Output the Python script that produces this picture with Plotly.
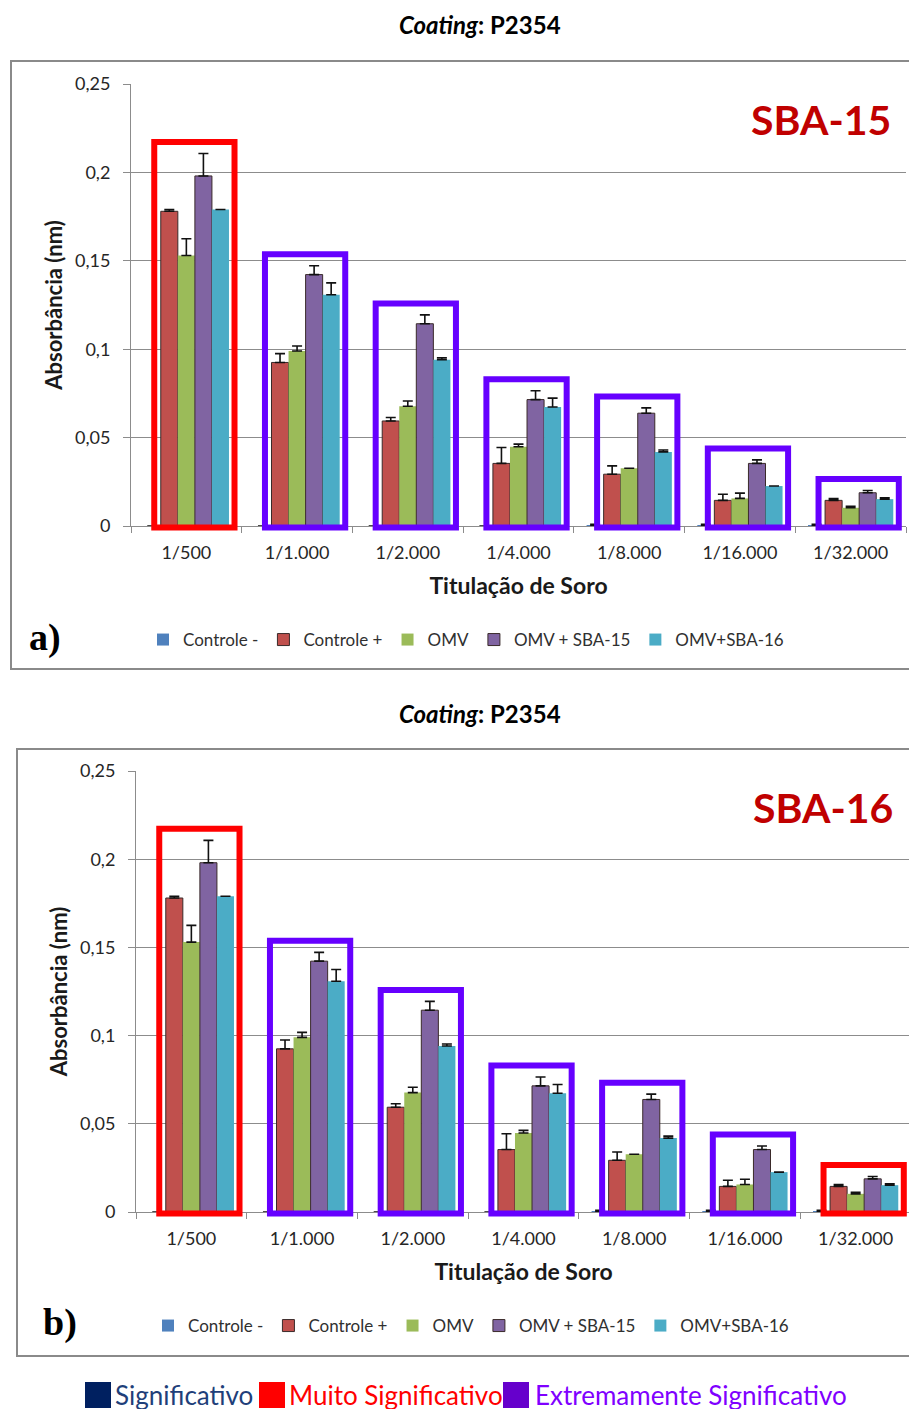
import plotly.graph_objects as go

# ---------------- data ----------------
categories = ["1/500", "1/1.000", "1/2.000", "1/4.000", "1/8.000", "1/16.000", "1/32.000"]
series_names = ["Controle -", "Controle +", "OMV", "OMV + SBA-15", "OMV+SBA-16"]

controle_neg = [0.0, 0.0, 0.0, 0.0, 0.0003, 0.0003, 0.0003]
controle_neg_err = [0.0, 0.0, 0.0, 0.0, 0.0006, 0.0006, 0.0006]
controle_pos = [0.178, 0.0925, 0.0594, 0.0354, 0.0293, 0.0145, 0.0145]
controle_pos_err = [0.001, 0.005, 0.002, 0.009, 0.0047, 0.0035, 0.001]
omv = [0.153, 0.099, 0.0677, 0.0448, 0.0327, 0.0156, 0.0103]
omv_err = [0.0095, 0.0028, 0.003, 0.0015, 0.0, 0.003, 0.0008]
omv_sba15 = [0.198, 0.1422, 0.1144, 0.0715, 0.0638, 0.0354, 0.0188]
omv_sba15_err = [0.0127, 0.005, 0.005, 0.005, 0.003, 0.002, 0.0013]
omv_sba16 = [0.179, 0.1308, 0.0941, 0.0673, 0.0419, 0.0226, 0.0152]
omv_sba16_err = [0.0, 0.0067, 0.0011, 0.005, 0.0011, 0.0, 0.0008]

# significance level of each dilution group (panel a: SBA-15, panel b: SBA-16)
significance_a = ["Muito", "Extremamente", "Extremamente", "Extremamente",
                  "Extremamente", "Extremamente", "Extremamente"]
significance_b = ["Muito", "Extremamente", "Extremamente", "Extremamente",
                  "Extremamente", "Extremamente", "Muito"]

significance_labels = ["Significativo", "Muito Significativo", "Extremamente Significativo"]

panel_titles = ["SBA-15", "SBA-16"]
panel_letters = ["a)", "b)"]

# ---------------- styles ----------------
W, H = 917, 1409
OFF = 8  # page body margin compensation
FONT = "Lato"
series_colors = ["#4F81BD", "#C0504D", "#9BBB59", "#8064A2", "#4BACC6"]
series_outline = [0, 1, 0, 1, 0]
box_colors = {"Significativo": "#002060", "Muito": "#FF0000", "Extremamente": "#6600FF"}
sig_square_colors = ["#002060", "#FF0000", "#6600CC"]
sig_text_colors = ["#1F3F7A", "#FF0000", "#7F00FF"]
GRID = "#8C8C8C"
YMAX = 0.25

values = [controle_neg, controle_pos, omv, omv_sba15, omv_sba16]
errors = [controle_neg_err, controle_pos_err, omv_err, omv_sba15_err, omv_sba16_err]


def py(px):
    return 1 - (px - OFF) / H


def pxx(px):
    return (px - OFF) / W


# panel geometry (pixels)
panels = [
    dict(xa="x", ya="y", x0=131, x1=906, ytop=84, ybot=526, frame=(11, 61, 669),
         title_y=25, tag_xy=(821, 119), letter_xy=(45, 637), legend_y=640,
         legend_x=143, sig=significance_a, legend="legend"),
    dict(xa="x2", ya="y2", x0=136, x1=911, ytop=771, ybot=1212, frame=(17, 749, 1356),
         title_y=713, tag_xy=(823, 807), letter_xy=(60, 1322), legend_y=1326,
         legend_x=148, sig=significance_b, legend="legend2"),
]

fig = go.Figure()

shapes = []
annotations = []

for p_i, p in enumerate(panels):
    for s_i, name in enumerate(series_names):
        fig.add_trace(go.Bar(
            x=categories, y=values[s_i], name=name,
            xaxis=p["xa"], yaxis=p["ya"], legend=p["legend"],
            marker=dict(color=series_colors[s_i],
                        line=dict(color="#3A2A2A", width=series_outline[s_i])),
            error_y=dict(type="data", symmetric=False, array=errors[s_i],
                         arrayminus=[0] * len(categories),
                         color="#111111", thickness=1.6, width=5),
            hoverinfo="x+y+name",
        ))

    # outer frame
    fx0, fy0, fy1 = p["frame"]
    shapes.append(dict(type="rect", xref="paper", yref="paper",
                       x0=pxx(fx0), x1=1.03, y0=py(fy1), y1=py(fy0),
                       line=dict(color="#8A8A8A", width=2), layer="below"))

    # significance boxes around each dilution group
    n = len(categories)
    xd = "x domain" if p["xa"] == "x" else "x2 domain"
    yd = "y domain" if p["ya"] == "y" else "y2 domain"
    for c_i in range(n):
        top = max(values[s][c_i] + errors[s][c_i] for s in range(len(values))) + 0.0065
        shapes.append(dict(type="rect", xref=xd, yref=yd,
                           x0=(c_i + 0.5 - 0.29) / n, x1=(c_i + 0.5 + 0.435) / n,
                           y0=-0.0008 / YMAX, y1=top / YMAX,
                           line=dict(color=box_colors[p["sig"][c_i]], width=6),
                           layer="above"))

    # titles / tags
    annotations.append(dict(xref="paper", yref="paper", x=pxx(480), y=py(p["title_y"]),
                            text="<b><i>Coating</i>: P2354</b>", showarrow=False,
                            xanchor="center", yanchor="middle",
                            font=dict(family=FONT, size=24, color="#000000")))
    annotations.append(dict(xref="paper", yref="paper", x=pxx(p["tag_xy"][0]), y=py(p["tag_xy"][1]),
                            text="<b>" + panel_titles[p_i] + "</b>", showarrow=False,
                            xanchor="center", yanchor="middle",
                            font=dict(family=FONT, size=41, color="#C00000")))
    annotations.append(dict(xref="paper", yref="paper", x=pxx(p["letter_xy"][0]), y=py(p["letter_xy"][1]),
                            text="<b>" + panel_letters[p_i] + "</b>", showarrow=False,
                            xanchor="center", yanchor="middle",
                            font=dict(family="Liberation Serif", size=38, color="#000000")))

# bottom significance key
sig_square_x = [85, 259, 503]
sig_text_x = [113, 287, 533]
for k, lab in enumerate(significance_labels):
    shapes.append(dict(type="rect", xref="paper", yref="paper",
                       x0=pxx(sig_square_x[k]), x1=pxx(sig_square_x[k] + 26),
                       y0=py(1408), y1=py(1382),
                       fillcolor=sig_square_colors[k], line=dict(width=0)))
    annotations.append(dict(xref="paper", yref="paper", x=pxx(sig_text_x[k]), y=py(1395),
                            text=lab, showarrow=False, xanchor="left", yanchor="middle",
                            font=dict(family=FONT, size=26, color=sig_text_colors[k])))

axis_common_x = dict(type="category", showline=True, linecolor=GRID, linewidth=1,
                     ticks="outside", tickson="boundaries", ticklen=6, tickcolor=GRID,
                     showgrid=False, tickfont=dict(family=FONT, size=18, color="#262626"),
                     ticklabelstandoff=10, automargin=False)
axis_common_y = dict(range=[0, YMAX], dtick=0.05, showline=True, linecolor=GRID, linewidth=1,
                     ticks="outside", ticklen=7, tickcolor=GRID, showgrid=True,
                     gridcolor=GRID, gridwidth=1, zeroline=False,
                     tickfont=dict(family=FONT, size=18, color="#262626"),
                     ticklabelstandoff=9, automargin=False)

xtitle = dict(text="<b>Titulação de Soro</b>", font=dict(family=FONT, size=23, color="#1A1A1A"), standoff=16)
ytitle = dict(text="<b>Absorbância (nm)</b>", font=dict(family=FONT, size=22, color="#1A1A1A"), standoff=6)

p0, p1 = panels
legend_common = dict(orientation="h", yanchor="middle", xanchor="left",
                     font=dict(family=FONT, size=17, color="#303030"),
                     bgcolor="rgba(0,0,0,0)", itemwidth=30, traceorder="normal",
                     tracegroupgap=0)

fig.update_layout(
    width=W, height=H,
    margin=dict(l=0, r=0, t=0, b=0, pad=0, autoexpand=False),
    paper_bgcolor="white", plot_bgcolor="white",
    separators=", ",
    barmode="group", bargap=0.23, bargroupgap=0.0,
    font=dict(family=FONT),
    xaxis=dict(domain=[pxx(p0["x0"]), pxx(p0["x1"])], anchor="y", title=xtitle, **axis_common_x),
    yaxis=dict(domain=[py(p0["ybot"]), py(p0["ytop"])], anchor="x", title=ytitle, **axis_common_y),
    xaxis2=dict(domain=[pxx(p1["x0"]), pxx(p1["x1"])], anchor="y2", title=xtitle, **axis_common_x),
    yaxis2=dict(domain=[py(p1["ybot"]), py(p1["ytop"])], anchor="x2", title=ytitle, **axis_common_y),
    legend=dict(x=pxx(p0["legend_x"]), y=py(p0["legend_y"]), **legend_common),
    legend2=dict(x=pxx(p1["legend_x"]), y=py(p1["legend_y"]), **legend_common),
    shapes=shapes,
    annotations=annotations,
    showlegend=True,
)

fig.write_html("out.html")
